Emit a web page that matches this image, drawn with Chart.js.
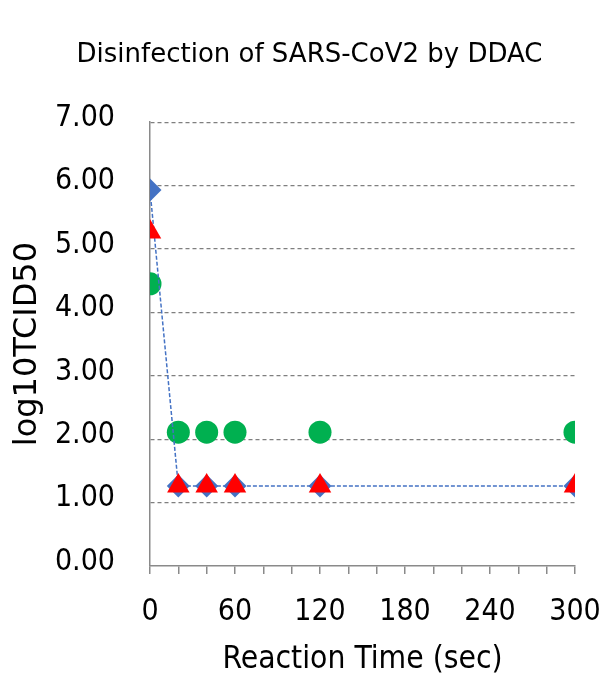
<!DOCTYPE html>
<html>
<head>
<meta charset="utf-8">
<script src="https://cdn.jsdelivr.net/npm/chart.js@4/dist/chart.umd.min.js"></script>
<style>
  html, body { margin: 0; padding: 0; background: #ffffff; }
  #wrap { width: 604px; height: 680px; position: relative; }
</style>
</head>
<body>
<div id="wrap"><canvas id="c" width="604" height="680"></canvas></div>
<script>
// Data
const times = [0, 20, 40, 60, 120, 300];              // Reaction time (sec)
const seriesBlue = [5.93, 1.26, 1.26, 1.26, 1.26, 1.26];  // diamonds + dashed line
const seriesRed = [5.27, 1.26, 1.26, 1.26, 1.26, 1.26];   // triangles
const seriesGreen = [4.45, 2.11, 2.11, 2.11, 2.11, 2.11]; // circles
const xTickValues = [0, 20, 40, 60, 80, 100, 120, 140, 160, 180, 200, 220, 240, 260, 280, 300];
const xMajorLabels = [0, 60, 120, 180, 240, 300];
const yTickLabels = ['0.00', '1.00', '2.00', '3.00', '4.00', '5.00', '6.00', '7.00'];

const toPts = (vals) => times.map((t, i) => ({ x: t, y: vals[i] }));
const FONT = "'DejaVu Sans', Verdana, sans-serif";
const FONT_C = "'DejaVu Sans Condensed', 'DejaVu Sans', sans-serif";
const GRAY = '#8a8a8a';

new Chart(document.getElementById('c'), {
  type: 'scatter',
  data: {
    datasets: [
      {
        label: 'red',
        data: toPts(seriesRed),
        showLine: false,
        pointStyle: 'triangle',
        pointRadius: 13,
        pointHoverRadius: 13,
        backgroundColor: '#ff0000',
        borderColor: '#ff0000',
        borderWidth: 0,
        order: 0
      },
      {
        label: 'blue',
        data: toPts(seriesBlue),
        showLine: true,
        borderColor: '#4472c4',
        borderWidth: 1.5,
        borderDash: [4, 2],
        pointStyle: 'rectRot',
        pointRadius: 11.5,
        pointHoverRadius: 11.5,
        pointBackgroundColor: '#4472c4',
        pointBorderColor: '#4472c4',
        pointBorderWidth: 0,
        order: 1
      },
      {
        label: 'green',
        data: toPts(seriesGreen),
        showLine: false,
        pointStyle: 'circle',
        pointRadius: 11.5,
        pointHoverRadius: 11.5,
        backgroundColor: '#00b050',
        borderColor: '#00b050',
        borderWidth: 0,
        order: 2
      }
    ]
  },
  options: {
    responsive: false,
    animation: false,
    events: [],
    layout: { padding: { left: 15, right: 0, top: 0, bottom: 0 } },
    plugins: {
      legend: { display: false },
      tooltip: { enabled: false },
      title: {
        display: true,
        text: 'Disinfection of SARS-CoV2 by DDAC',
        color: '#000000',
        font: { family: FONT, size: 26, weight: 'normal', lineHeight: 1.2 },
        padding: { top: 40, bottom: 51 }
      }
    },
    scales: {
      x: {
        type: 'linear',
        min: 0,
        max: 300,
        afterFit: (s) => { s.height = 114; s.paddingLeft = 0; s.paddingRight = 29; },
        afterBuildTicks: (s) => { s.ticks = xTickValues.map(v => ({ value: v })); },
        ticks: {
          autoSkip: false,
          maxRotation: 0,
          padding: 20,
          color: '#000000',
          font: { family: FONT_C, size: 30 },
          callback: (v) => xMajorLabels.includes(v) ? String(v) : ''
        },
        grid: {
          drawOnChartArea: false,
          drawTicks: true,
          tickLength: 8,
          color: GRAY,
          lineWidth: 1.5
        },
        border: { display: true, color: GRAY, width: 1.5 },
        title: {
          display: true,
          text: 'Reaction Time (sec)',
          color: '#000000',
          font: { family: FONT_C, size: 31.5, lineHeight: 1.2 },
          padding: { top: 0, bottom: 1 }
        }
      },
      y: {
        type: 'linear',
        min: 0,
        max: 7,
        afterFit: (s) => { s.width = 135; },
        afterBuildTicks: (s) => { s.ticks = yTickLabels.map((t) => ({ value: parseFloat(t) })); },
        ticks: {
          padding: 35,
          labelOffset: -4,
          color: '#000000',
          font: { family: FONT_C, size: 30 },
          callback: (v) => yTickLabels[Math.round(v)]
        },
        grid: {
          drawTicks: false,
          color: (ctx) => (ctx.tick && ctx.tick.value === 0) ? 'rgba(0,0,0,0)' : '#7f7f7f',
          lineWidth: 1.2
        },
        border: { display: true, color: GRAY, width: 1.5, dash: [4, 3] },
        title: {
          display: true,
          text: 'log10TCID50',
          color: '#000000',
          font: { family: FONT, size: 32, lineHeight: 0.8 },
          padding: { top: 0, bottom: 0 }
        }
      }
    }
  }
});
</script>
</body>
</html>
